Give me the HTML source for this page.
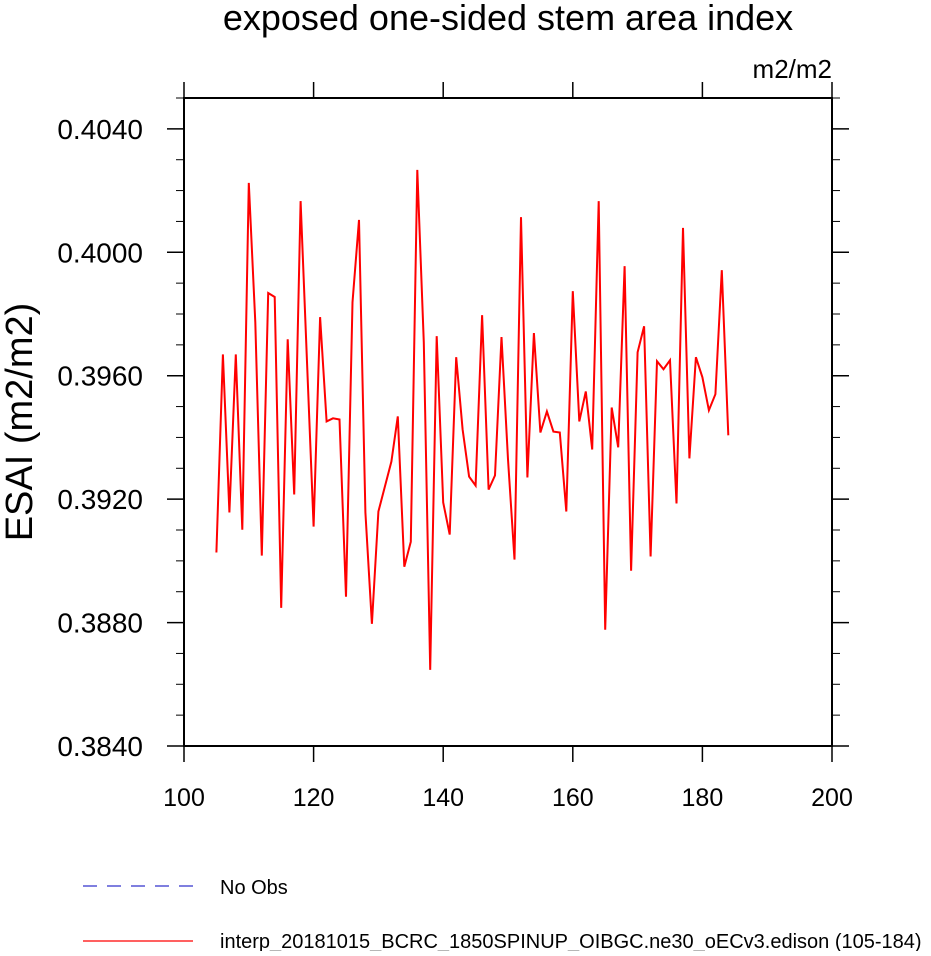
<!DOCTYPE html>
<html><head><meta charset="utf-8"><style>
body{margin:0;background:#fff;width:931px;height:951px;overflow:hidden}
svg{font-family:"Liberation Sans",Helvetica,Arial,sans-serif}
</style></head><body>
<svg id="chart" width="931" height="951" viewBox="0 0 931 951" xmlns="http://www.w3.org/2000/svg">
<text x="508" y="30" font-size="36" text-anchor="middle">exposed one-sided stem area index</text>
<text x="832" y="78" font-size="26" text-anchor="end">m2/m2</text>
<text transform="translate(32,422) rotate(-90)" font-size="38" text-anchor="middle">ESAI  (m2/m2)</text>
<g id="axes"></g>
<g id="series"></g>
<g>
<line x1="83" y1="886" x2="193" y2="886" stroke="#3333cc" stroke-width="1.2" stroke-dasharray="14,10"/>
<text x="220" y="894" font-size="20">No Obs</text>
<line x1="83" y1="941" x2="193" y2="941" stroke="#ff0000" stroke-width="1.2"/>
<text x="220" y="948" font-size="20">interp_20181015_BCRC_1850SPINUP_OIBGC.ne30_oECv3.edison (105-184)</text>
</g>
</svg>
<script>
const years=[];for(let i=105;i<=184;i++)years.push(i);
const esai=[0.39027,0.39669,0.39157,0.39669,0.39101,0.40225,0.39773,0.39017,0.39868,0.39855,
0.38848,0.39718,0.39215,0.40166,0.39637,0.39111,0.39790,0.39452,0.39462,0.39458,
0.38884,0.39838,0.40105,0.39157,0.38796,0.39160,0.39241,0.39322,0.39468,0.38981,
0.39062,0.40267,0.39708,0.38647,0.39728,0.39189,0.39085,0.39660,0.39426,0.39273,
0.39244,0.39796,0.39231,0.39277,0.39725,0.39329,0.39004,0.40114,0.39270,0.39738,
0.39416,0.39484,0.39419,0.39416,0.39160,0.39874,0.39452,0.39549,0.39361,0.40166,
0.38777,0.39497,0.39368,0.39955,0.38968,0.39676,0.39760,0.39014,0.39647,0.39621,
0.39650,0.39186,0.40079,0.39332,0.39660,0.39595,0.39488,0.39540,0.39942,0.39407];
const xTicks=[100,120,140,160,180,200];
const yTicks=[0.3840,0.3880,0.3920,0.3960,0.4000,0.4040];
const yTickLabels=["0.3840","0.3880","0.3920","0.3960","0.4000","0.4040"];
const L=184,R=832,T=98,B=746;
const sx=v=>L+(v-100)/100*(R-L);
const sy=v=>B-(v-0.3840)/(0.4050-0.3840)*(B-T);
const NS="http://www.w3.org/2000/svg";
const ax=document.getElementById('axes');
function mk(tag,attrs,parent){const e=document.createElementNS(NS,tag);for(const k in attrs)e.setAttribute(k,attrs[k]);parent.appendChild(e);return e;}
const fr=mk('rect',{x:L,y:T,width:R-L,height:B-T,fill:'none',stroke:'#000','stroke-width':2},ax);


xTicks.forEach(v=>{const x=sx(v);
 const t1=mk('line',{x1:x,y1:B,x2:x,y2:B+16,stroke:'#000','stroke-width':1.5},ax);
 
 
 const t2=mk('line',{x1:x,y1:T,x2:x,y2:T-16,stroke:'#000','stroke-width':1.5},ax);
 
 
 const tx=mk('text',{x:x,y:B+60,'font-size':25,'text-anchor':'middle'},ax);tx.textContent=String(v);
 
 
});
for(let k=0;k<=21;k++){const v=0.3840+k*0.001;const y=sy(v);const major=(k%4===0);const len=major?17:8;
 const a=mk('line',{x1:L-len,y1:y,x2:L,y2:y,stroke:'#000','stroke-width':major?1.5:1},ax);
 
 
 const b=mk('line',{x1:R,y1:y,x2:R+len,y2:y,stroke:'#000','stroke-width':major?1.5:1},ax);
 
 
}
yTicks.forEach((v,i)=>{const tx=mk('text',{x:143,y:sy(v)+10,'font-size':28,'text-anchor':'end'},ax);tx.textContent=yTickLabels[i];
 
 
});
const pts=years.map((yr,i)=>sx(yr).toFixed(1)+','+sy(esai[i]).toFixed(1)).join(' ');
const pl=mk('polyline',{points:pts,fill:'none',stroke:'#ff0000','stroke-width':2,'stroke-linejoin':'miter'},document.getElementById('series'));


</script>
</body></html>
